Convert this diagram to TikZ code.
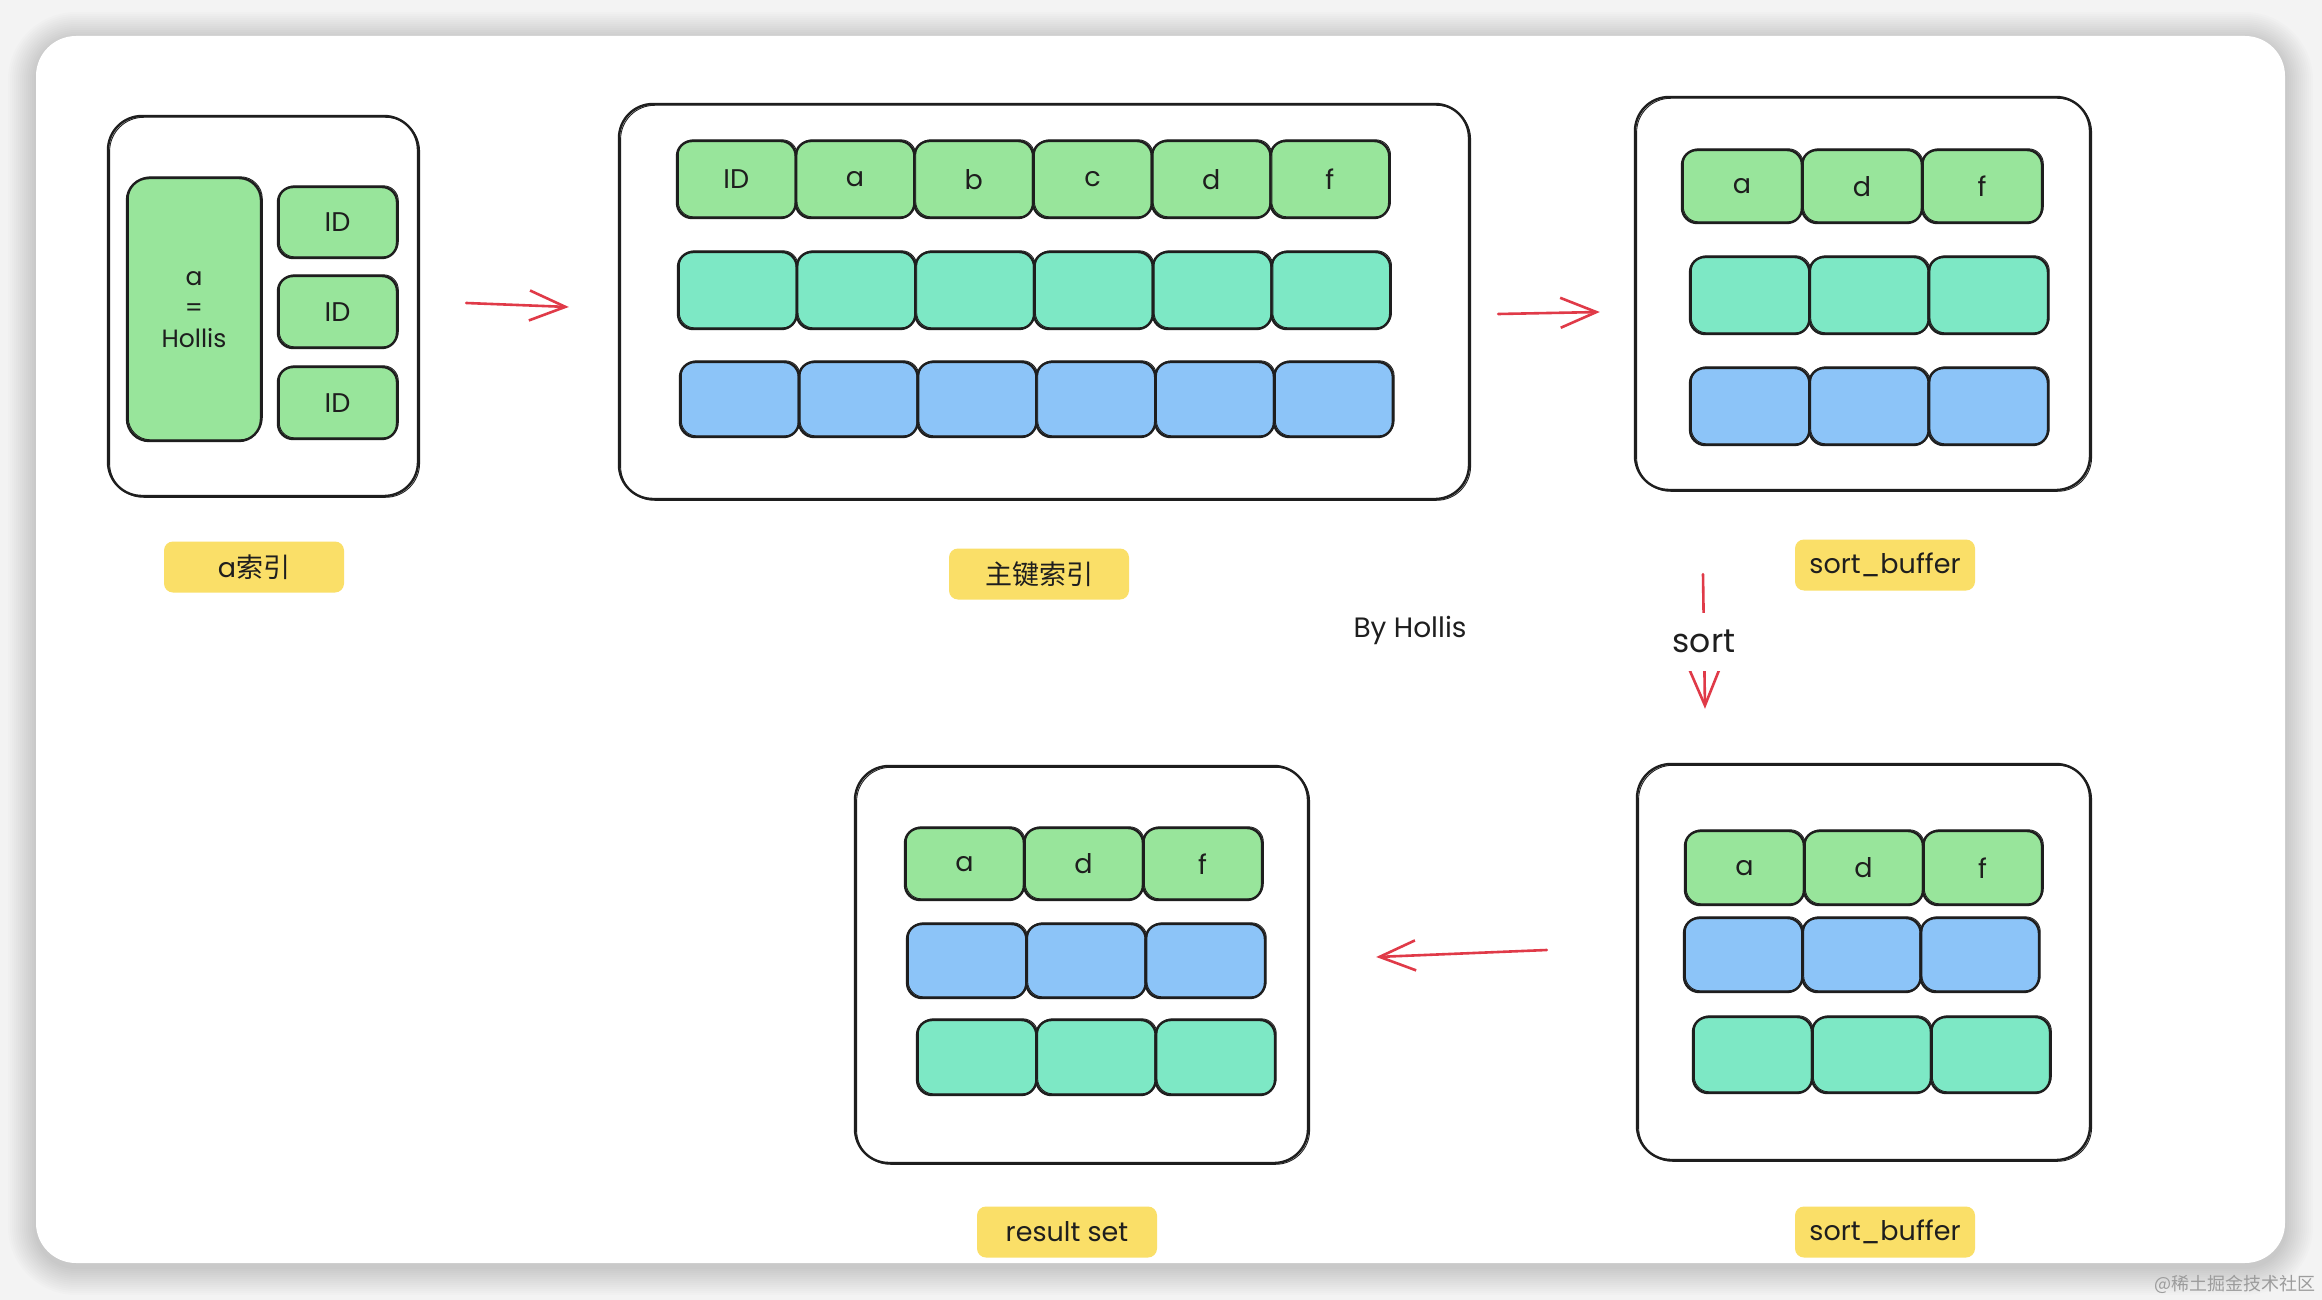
\documentclass[tikz,border=0pt]{standalone}
\usepackage{fontspec}
\setmainfont{Poppins}
\newfontfamily\cjkfont{Noto Sans CJK SC}
\usetikzlibrary{arrows.meta,calc}
\definecolor{ink}{HTML}{1E1E1E}
\definecolor{cg}{HTML}{98E59B}
\definecolor{ct}{HTML}{7DE8C5}
\definecolor{cb}{HTML}{8CC4F8}
\definecolor{cy}{HTML}{FADF68}
\definecolor{arrowred}{HTML}{E03A48}
\definecolor{bgcol}{HTML}{F3F3F3}
\definecolor{wmark}{HTML}{9C9C9C}
\begin{document}
\begin{tikzpicture}[x=1pt,y=-1pt,
  container/.style={draw=ink, line width=2.4pt, rounded corners=34pt, fill=white, inner sep=0pt,
    postaction={draw=ink, line width=0.9pt, transform canvas={shift={(1.6pt,-1.3pt)}}}},
  cell/.style={draw=ink, line width=2.4pt, rounded corners=15pt, inner sep=0pt, text=ink,
    font=\fontsize{27}{30}\selectfont,
    postaction={draw=ink, line width=0.9pt, transform canvas={shift={(1.3pt,1.2pt)}}}},
  tag/.style={fill=cy, rounded corners=9pt, minimum width=180pt, minimum height=51pt, inner sep=0pt,
    text=ink, font=\fontsize{27}{28}\selectfont},
  plain/.style={text=ink, font=\fontsize{28}{30}\selectfont, inner sep=0pt},
  redarrow/.style={draw=arrowred, line width=2.6pt, line cap=round,
    -{Straight Barb[length=36pt,width=30pt]}}
]
\useasboundingbox (0,0) rectangle (2322,1300);
\fill[bgcol] (0,0) rectangle (2322,1300);
% card shadow
\foreach \r in {2,4,...,28} {
  \pgfmathsetmacro\rc{40+\r}
  \fill[black, opacity=0.011, rounded corners=\rc pt] (36-\r,40-\r) rectangle (2285+\r,1267+\r);
}
\fill[white, rounded corners=40pt] (36,36) rectangle (2285,1263);

% ---------- box 1 : a index ----------
\node[container, minimum width=310pt, minimum height=380pt] (b1) at (263,306) {};
\node[cell, fill=cg, minimum width=134pt, minimum height=263pt, rounded corners=22pt, align=center,
  font=\fontsize{25}{31}\selectfont] (ha) at (194,309.5) {a\\=\\Hollis};
\node[cell, fill=cg, minimum width=119pt, minimum height=71pt] (id1) at (337.5,222.5) {ID};
\node[cell, fill=cg, minimum width=119pt, minimum height=72pt] (id2) at (337.5,312) {ID};
\node[cell, fill=cg, minimum width=119pt, minimum height=72pt] (id3) at (337.5,403) {ID};
\node[tag] (l1) at (254,567) {a{\cjkfont 索引}};

% ---------- box 2 : primary key index ----------
\node[container, minimum width=850pt, minimum height=395pt] (b2) at (1044,301.5) {};
\foreach \t [count=\i from 0] in {ID,a,b,c,d,f}
  \node[cell, fill=cg, minimum width=118.7pt, minimum height=77pt] (p1\i) at ({736.35+\i*118.7},179.5) {\t};
\foreach \i in {0,...,5}
  \node[cell, fill=ct, minimum width=118.7pt, minimum height=77pt] (p2\i) at ({737.35+\i*118.7},290.5) {};
\foreach \i in {0,...,5}
  \node[cell, fill=cb, minimum width=118.8pt, minimum height=75pt] (p3\i) at ({739.4+\i*118.8},399.5) {};
\node[tag] (l2) at (1039,574) {\cjkfont 主键索引};

% ---------- box 3 : sort_buffer (top) ----------
\node[container, minimum width=455pt, minimum height=393pt] (b3) at (1862.5,293.5) {};
\foreach \t [count=\i from 0] in {a,d,f}
  \node[cell, fill=cg, minimum width=120pt, minimum height=73pt] (s1\i) at ({1742+\i*120},186.5) {\t};
\foreach \i in {0,1,2}
  \node[cell, fill=ct, minimum width=119.3pt, minimum height=77pt] (s2\i) at ({1749.7+\i*119.3},295.5) {};
\foreach \i in {0,1,2}
  \node[cell, fill=cb, minimum width=119.3pt, minimum height=77pt] (s3\i) at ({1749.7+\i*119.3},406.5) {};
\node[tag] (l3) at (1885,565) {sort\_buffer};

% ---------- box 5 : sort_buffer (bottom) ----------
\node[container, minimum width=453pt, minimum height=396pt] (b5) at (1863.5,962) {};
\foreach \t [count=\i from 0] in {a,d,f}
  \node[cell, fill=cg, minimum width=119pt, minimum height=74pt] (t1\i) at ({1744.5+\i*119},868) {\t};
\foreach \i in {0,1,2}
  \node[cell, fill=cb, minimum width=118.3pt, minimum height=74pt] (t2\i) at ({1743.2+\i*118.3},955) {};
\foreach \i in {0,1,2}
  \node[cell, fill=ct, minimum width=119pt, minimum height=76pt] (t3\i) at ({1752.5+\i*119},1055) {};
\node[tag] (l5) at (1885,1232) {sort\_buffer};

% ---------- box 4 : result set ----------
\node[container, minimum width=453pt, minimum height=397pt] (b4) at (1081.5,964.5) {};
\foreach \t [count=\i from 0] in {a,d,f}
  \node[cell, fill=cg, minimum width=119pt, minimum height=72pt] (r1\i) at ({964.5+\i*119},864) {\t};
\foreach \i in {0,1,2}
  \node[cell, fill=cb, minimum width=119.3pt, minimum height=74pt] (r2\i) at ({966.7+\i*119.3},961) {};
\foreach \i in {0,1,2}
  \node[cell, fill=ct, minimum width=119.3pt, minimum height=75pt] (r3\i) at ({976.7+\i*119.3},1057.5) {};
\node[tag] (l4) at (1067,1232) {result set};

% ---------- free text ----------
\node[plain] (by) at (1410,630) {By Hollis};
\node[text=wmark, font=\cjkfont\fontsize{18}{20}\selectfont, inner sep=0pt] (wm) at (2235,1284) {@稀土掘金技术社区};

% ---------- arrows ----------
\draw[redarrow] ($(b1.east)+(47,-3)$) -- ($(b2.west)+(-49,5.5)$);
\draw[redarrow] ($(b2.east)+(28,12.5)$) -- ($(b3.west)+(-34,18.5)$);
\draw[redarrow] ($(b5.west)+(-89,-12)$) -- ($(b4.east)+(67,-7.5)$);
\coordinate (st) at ($(b3.south)+(-159.5,83)$);
\coordinate (se) at ($(b5.north)+(-158.5,-54)$);
\draw[redarrow] (st) -- node[fill=white, text=ink, inner sep=0pt, minimum height=58pt, minimum width=80pt,
  font=\fontsize{33}{34}\selectfont] (sortlbl) {sort} (se);
\end{tikzpicture}
\end{document}
